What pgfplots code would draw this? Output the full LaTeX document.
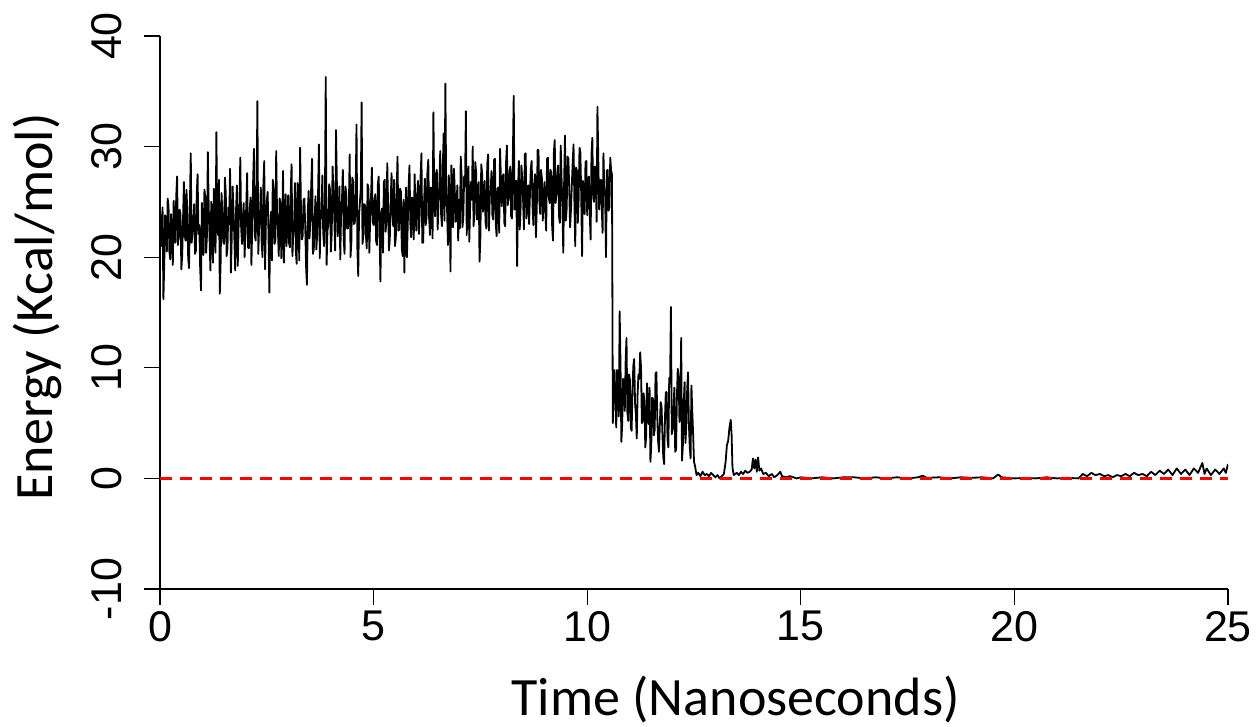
\documentclass[border=0pt]{standalone}
\usepackage{fontspec}
\setmainfont{Liberation Sans}
\newfontfamily\labelfont{Carlito}
\usepackage{pgfplots}
\pgfplotsset{compat=1.18}
\begin{document}
\begin{tikzpicture}
\begin{axis}[
  at={(0,0)}, anchor=south west,
  scale only axis, width=534pt, height=276.5pt,
  xmin=0, xmax=25, ymin=-10, ymax=40,
  axis lines=left, axis line style={-, line width=0.65pt},
  xtick={0,5,...,25}, ytick={-10,0,...,40},
  xticklabels={0,5,10,15,20,25}, yticklabels={-10,0,10,20,30,40},
  tick align=outside, major tick length=8pt,
  tick style={black, line width=0.65pt},
  ticklabel style={font=\fontsize{21.5}{24}\selectfont, inner sep=0pt},
  yticklabel style={xshift=-11pt, rotate=90, anchor=south},
  xticklabel style={anchor=north, yshift=-3pt},
  xlabel={Time (Nanoseconds)}, ylabel={Energy (Kcal/mol)},
  label style={font=\labelfont\fontsize{27}{30}\selectfont, inner sep=0pt},
  xlabel style={at={(axis description cs:0.539,-0.229)}, anchor=base},
  ylabel style={at={(axis description cs:-0.1011,0.51)}, anchor=base},
  /pgf/number format/assume math mode=true,
]
% trajectory, 0 - 12.52 ns, one value every 0.02 ns
\addplot[black, line width=0.9pt, line join=round]
  table[x expr=\coordindex*0.02, y index=0, header=false, row sep=\\] {
24.5\\ 21.5\\ 21.0\\ 24.5\\ 16.2\\ 19.5\\ 23.8\\ 23.1\\ 20.5\\ 25.3\\ 24.6\\ 20.5\\ 19.8\\ 23.9\\ 22.4\\ 19.3\\ 25.1\\ 22.7\\ 21.3\\ 25.5\\ 27.3\\ 21.1\\ 22.0\\ 24.3\\ 23.9\\
18.9\\ 20.2\\ 23.5\\ 26.8\\ 21.9\\ 21.5\\ 26.1\\ 24.0\\ 19.9\\ 19.0\\ 24.7\\ 29.4\\ 21.3\\ 22.1\\ 23.3\\ 24.8\\ 20.3\\ 20.6\\ 25.7\\ 27.5\\ 22.1\\ 22.9\\ 19.1\\ 17.0\\ 24.9\\
23.2\\ 20.2\\ 26.1\\ 25.4\\ 20.4\\ 22.0\\ 29.5\\ 24.6\\ 21.8\\ 18.8\\ 25.0\\ 23.2\\ 19.5\\ 26.2\\ 23.6\\ 20.4\\ 31.3\\ 22.8\\ 22.0\\ 27.0\\ 16.7\\ 19.6\\ 25.8\\ 24.0\\ 21.4\\
21.2\\ 27.2\\ 25.8\\ 20.1\\ 20.8\\ 24.5\\ 23.0\\ 28.0\\ 18.6\\ 21.9\\ 26.4\\ 24.3\\ 21.8\\ 18.8\\ 24.2\\ 26.5\\ 19.2\\ 22.7\\ 25.0\\ 29.0\\ 22.6\\ 21.2\\ 23.6\\ 24.9\\ 20.0\\
22.3\\ 24.7\\ 27.6\\ 20.9\\ 20.8\\ 24.3\\ 25.4\\ 19.3\\ 23.0\\ 26.9\\ 29.8\\ 21.9\\ 21.5\\ 25.5\\ 34.1\\ 20.3\\ 22.6\\ 23.7\\ 26.3\\ 21.3\\ 20.0\\ 26.5\\ 28.7\\ 18.9\\ 23.4\\
25.1\\ 25.9\\ 22.1\\ 16.8\\ 22.7\\ 24.1\\ 19.7\\ 27.0\\ 26.1\\ 21.2\\ 21.5\\ 29.6\\ 23.9\\ 22.5\\ 20.1\\ 25.3\\ 24.9\\ 19.9\\ 22.3\\ 27.8\\ 19.5\\ 23.7\\ 25.7\\ 21.0\\ 22.5\\
25.6\\ 21.3\\ 20.9\\ 25.9\\ 28.4\\ 20.1\\ 22.2\\ 23.1\\ 26.7\\ 20.5\\ 19.4\\ 26.7\\ 24.8\\ 19.7\\ 29.9\\ 24.3\\ 21.6\\ 21.9\\ 25.2\\ 25.3\\ 22.8\\ 19.1\\ 17.5\\ 24.1\\ 26.0\\
21.7\\ 23.3\\ 26.5\\ 28.9\\ 20.3\\ 20.7\\ 23.3\\ 25.5\\ 20.7\\ 22.1\\ 25.7\\ 30.2\\ 19.9\\ 23.9\\ 23.5\\ 27.4\\ 22.3\\ 21.0\\ 24.7\\ 36.3\\ 19.3\\ 22.4\\ 22.9\\ 26.6\\ 26.1\\
20.5\\ 22.2\\ 28.2\\ 25.8\\ 23.6\\ 20.6\\ 31.5\\ 26.8\\ 21.9\\ 23.4\\ 26.4\\ 19.8\\ 24.2\\ 25.2\\ 27.9\\ 21.6\\ 20.3\\ 26.4\\ 25.8\\ 22.6\\ 22.6\\ 24.2\\ 29.3\\ 20.0\\ 21.4\\
27.2\\ 26.9\\ 23.0\\ 23.1\\ 25.6\\ 32.0\\ 20.8\\ 18.3\\ 23.8\\ 25.0\\ 26.2\\ 34.0\\ 21.2\\ 22.0\\ 24.8\\ 24.7\\ 22.0\\ 20.8\\ 26.6\\ 26.2\\ 20.4\\ 23.5\\ 25.4\\ 28.1\\ 23.2\\
22.9\\ 25.0\\ 25.7\\ 21.4\\ 21.1\\ 26.6\\ 27.3\\ 22.2\\ 17.8\\ 24.0\\ 24.4\\ 20.4\\ 26.8\\ 27.0\\ 22.3\\ 23.2\\ 28.5\\ 24.6\\ 20.6\\ 21.8\\ 25.1\\ 27.6\\ 23.8\\ 22.8\\ 27.0\\
21.0\\ 21.7\\ 25.8\\ 29.1\\ 22.4\\ 22.5\\ 26.2\\ 25.9\\ 20.8\\ 20.1\\ 25.2\\ 18.6\\ 23.6\\ 26.3\\ 20.0\\ 23.0\\ 26.4\\ 28.3\\ 23.0\\ 21.8\\ 25.4\\ 24.9\\ 21.6\\ 27.5\\ 24.4\\
22.4\\ 25.5\\ 26.9\\ 22.1\\ 24.0\\ 27.3\\ 29.4\\ 21.3\\ 21.3\\ 24.7\\ 27.1\\ 22.9\\ 23.6\\ 27.7\\ 28.8\\ 23.5\\ 22.0\\ 26.3\\ 26.2\\ 21.7\\ 33.1\\ 25.1\\ 23.7\\ 27.5\\ 27.9\\
22.5\\ 24.9\\ 26.7\\ 29.6\\ 23.9\\ 22.8\\ 28.1\\ 31.2\\ 23.3\\ 35.7\\ 25.9\\ 24.3\\ 21.1\\ 27.4\\ 25.3\\ 18.7\\ 28.3\\ 25.6\\ 22.7\\ 28.0\\ 26.1\\ 23.2\\ 24.3\\ 26.5\\ 21.5\\
25.2\\ 22.6\\ 29.1\\ 27.4\\ 22.7\\ 23.6\\ 27.3\\ 26.4\\ 33.2\\ 22.0\\ 24.5\\ 28.2\\ 21.4\\ 24.6\\ 26.8\\ 25.2\\ 30.0\\ 22.8\\ 23.9\\ 28.6\\ 27.7\\ 23.4\\ 25.0\\ 26.8\\ 19.6\\
21.8\\ 28.4\\ 27.6\\ 24.1\\ 25.0\\ 26.9\\ 23.2\\ 22.6\\ 28.4\\ 29.3\\ 22.4\\ 25.5\\ 26.0\\ 27.8\\ 23.8\\ 23.4\\ 28.8\\ 28.9\\ 23.0\\ 21.9\\ 26.2\\ 26.3\\ 22.2\\ 29.8\\ 27.2\\
24.6\\ 27.3\\ 27.5\\ 23.1\\ 22.8\\ 28.5\\ 30.1\\ 24.7\\ 25.3\\ 27.7\\ 28.2\\ 23.7\\ 23.5\\ 29.1\\ 34.6\\ 24.3\\ 26.0\\ 26.9\\ 19.2\\ 25.9\\ 28.7\\ 22.5\\ 24.2\\ 28.3\\ 27.1\\
25.1\\ 22.5\\ 29.3\\ 29.4\\ 23.5\\ 25.8\\ 26.5\\ 23.0\\ 25.7\\ 28.0\\ 28.7\\ 24.7\\ 22.9\\ 26.6\\ 27.5\\ 21.8\\ 24.5\\ 29.7\\ 29.7\\ 25.1\\ 23.9\\ 27.9\\ 27.1\\ 23.3\\ 25.3\\
26.8\\ 24.1\\ 22.4\\ 28.9\\ 29.0\\ 25.5\\ 24.9\\ 27.9\\ 27.6\\ 22.7\\ 21.5\\ 29.5\\ 30.6\\ 24.9\\ 25.7\\ 27.3\\ 28.3\\ 23.7\\ 23.1\\ 30.1\\ 27.2\\ 24.5\\ 20.4\\ 26.7\\ 31.0\\
23.3\\ 24.4\\ 29.1\\ 28.9\\ 26.1\\ 22.7\\ 24.3\\ 26.5\\ 28.5\\ 30.2\\ 25.1\\ 21.0\\ 28.1\\ 27.8\\ 23.1\\ 25.2\\ 29.9\\ 29.5\\ 25.7\\ 20.1\\ 26.9\\ 26.1\\ 23.9\\ 28.6\\ 28.7\\
23.8\\ 27.0\\ 27.3\\ 23.8\\ 21.6\\ 29.2\\ 30.8\\ 25.4\\ 25.0\\ 28.2\\ 28.1\\ 23.2\\ 33.6\\ 28.8\\ 24.3\\ 26.0\\ 27.0\\ 24.6\\ 22.2\\ 29.4\\ 26.4\\ 25.6\\ 20.0\\ 27.8\\ 27.9\\
24.2\\ 24.5\\ 29.0\\ 27.8\\ 27.5\\
5.0\\ 8.4\\ 9.8\\ 6.8\\ 4.6\\ 9.8\\ 8.5\\ 5.6\\ 15.1\\ 10.2\\ 3.3\\ 5.0\\ 9.0\\ 8.8\\ 6.1\\ 10.6\\ 12.7\\ 6.0\\ 5.2\\ 9.4\\ 8.9\\ 4.6\\ 4.3\\ 8.0\\ 10.2\\
10.8\\ 6.8\\ 5.8\\ 3.6\\ 7.6\\ 9.4\\ 9.0\\ 11.4\\ 10.0\\ 5.0\\ 5.2\\ 7.7\\ 7.0\\ 2.8\\ 3.8\\ 8.6\\ 6.4\\ 4.9\\ 8.2\\ 1.5\\ 3.0\\ 7.3\\ 7.2\\ 3.9\\ 4.4\\
9.5\\ 9.6\\ 5.6\\ 3.4\\ 2.4\\ 4.8\\ 6.9\\ 6.6\\ 4.1\\ 2.0\\ 1.3\\ 5.4\\ 7.8\\ 7.8\\ 3.5\\ 2.8\\ 9.1\\ 8.6\\ 15.5\\ 4.0\\ 4.4\\ 6.2\\ 8.2\\ 2.4\\ 2.6\\
7.4\\ 9.9\\ 9.2\\ 5.1\\ 5.8\\ 12.7\\ 1.6\\ 3.0\\ 6.8\\ 8.7\\ 3.2\\ 4.8\\ 8.0\\ 9.6\\ 5.0\\ 2.9\\ 1.8\\ 8.4\\ 6.0\\ 4.0\\ 1.5\\ 1.2\\
};
% trajectory after 12.52 ns
\addplot[black, line width=0.9pt, line join=round] coordinates {
(12.52,1.2) (12.56,0.3) (12.60,0.5) (12.65,0.2) (12.70,0.6) (12.75,0.3) (12.80,0.4) (12.85,0.2)
(12.90,0.5) (12.95,0.3) (13.00,0.1) (13.05,0.3) (13.10,0.0) (13.15,0.2) (13.20,0.4) (13.24,1.5)
(13.27,3.0) (13.30,3.4) (13.33,4.6) (13.36,5.3) (13.38,4.0) (13.40,1.0) (13.43,0.3) (13.50,0.5)
(13.55,0.3) (13.60,0.6) (13.65,0.4) (13.70,0.7) (13.75,0.5) (13.80,0.6) (13.85,0.8) (13.88,1.8)
(13.91,0.9) (13.94,1.7) (13.97,0.6) (14.00,1.9) (14.03,0.7) (14.07,0.9) (14.12,0.4) (14.18,0.5)
(14.25,0.2) (14.32,0.4) (14.38,0.1) (14.45,0.3) (14.52,0.6) (14.56,0.2) (14.65,0.1) (14.75,0.2)
(14.90,0.0) (15.00,0.1) (15.25,0.0) (15.50,0.1) (15.75,0.0) (16.00,0.1) (16.25,0.1) (16.50,0.0)
(16.75,0.1) (17.00,0.0) (17.25,0.1) (17.50,0.0) (17.75,0.1) (17.85,0.25) (17.95,0.05) (18.25,0.1)
(18.50,0.0) (18.75,0.1) (19.00,0.05) (19.25,0.1) (19.50,0.0) (19.62,0.35) (19.70,0.1) (20.00,0.0)
(20.25,0.05) (20.50,0.0) (20.75,0.1) (21.00,0.0) (21.25,0.05) (21.50,0.0)
(21.60,0.4) (21.70,0.2) (21.80,0.5) (21.90,0.3) (22.00,0.4) (22.10,0.2) (22.20,0.3) (22.30,0.1)
(22.40,0.3) (22.50,0.2) (22.60,0.4) (22.70,0.2) (22.80,0.5) (22.90,0.3) (23.00,0.4) (23.10,0.2)
(23.20,0.6) (23.30,0.3) (23.40,0.7) (23.50,0.4) (23.60,0.8) (23.70,0.3) (23.80,0.9) (23.90,0.4)
(24.00,0.8) (24.10,0.3) (24.20,0.9) (24.30,0.5) (24.40,1.4) (24.45,0.4) (24.50,0.9) (24.60,0.3)
(24.70,0.8) (24.80,0.4) (24.90,0.9) (24.95,0.5) (25.00,1.3)
};
% zero line
\addplot[red, line width=1.5pt, dash pattern=on 6pt off 4pt] coordinates {(0,0) (25,0)};
\end{axis}
\pgfresetboundingbox
\path (-80pt,-69pt) rectangle (549pt,294.5pt);
\end{tikzpicture}
\end{document}
